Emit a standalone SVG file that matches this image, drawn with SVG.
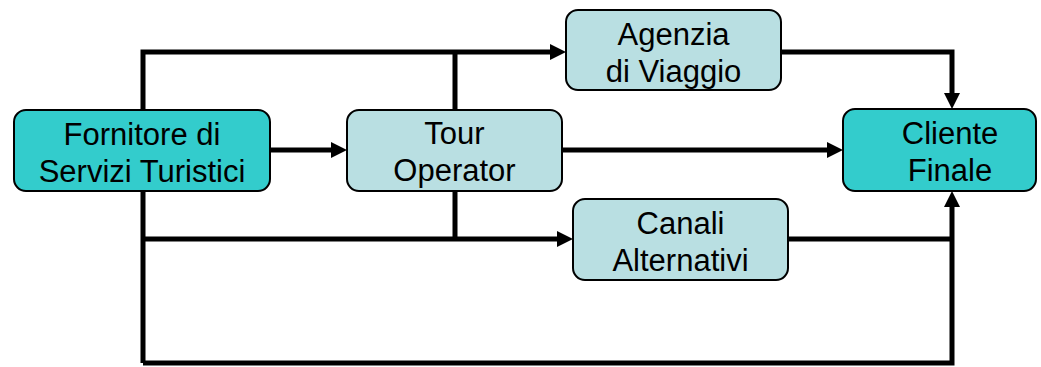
<svg xmlns="http://www.w3.org/2000/svg" width="1041" height="367" viewBox="0 0 1041 367">
<style>
.box{stroke:#000;stroke-width:2}
.dark{fill:#33CCCC}
.light{fill:#B9DFE2}
.t{font-family:"Liberation Sans",Arial,sans-serif;font-size:31px;fill:#000;text-anchor:middle}
.c{fill:none;stroke:#000;stroke-width:5;stroke-linejoin:miter}
</style>
<defs>
<marker id="ah" markerUnits="userSpaceOnUse" markerWidth="16" markerHeight="16" refX="2" refY="8" orient="auto">
<path d="M0,0 L16,8 L0,16 Z" fill="#000"/>
</marker>
</defs>
<g id="connectors">
<path class="c" d="M143,363 V52 H552" marker-end="url(#ah)"/>
<path class="c" d="M455,52 V239"/>
<path class="c" d="M143,239 H559" marker-end="url(#ah)"/>
<path class="c" d="M270,150 H333" marker-end="url(#ah)"/>
<path class="c" d="M562,150 H829" marker-end="url(#ah)"/>
<path class="c" d="M781,52 H952 V95" marker-end="url(#ah)"/>
<path class="c" d="M788,239 H952"/>
<path class="c" d="M143,363 H952 V205" marker-end="url(#ah)"/>
</g>
<g id="fornitore">
<rect class="box dark" x="14" y="110" width="256" height="81" rx="12"/>
<text class="t" x="142" y="145">Fornitore di</text>
<text class="t" x="142" y="182">Servizi Turistici</text>
</g>
<g id="tour">
<rect class="box light" x="347" y="110" width="215" height="81" rx="12"/>
<text class="t" x="454.5" y="144">Tour</text>
<text class="t" x="454.5" y="181">Operator</text>
</g>
<g id="agenzia">
<rect class="box light" x="566" y="10" width="215" height="80" rx="12"/>
<text class="t" x="673.5" y="45">Agenzia</text>
<text class="t" x="673.5" y="82">di Viaggio</text>
</g>
<g id="canali">
<rect class="box light" x="573" y="199" width="215" height="81" rx="12"/>
<text class="t" x="680.5" y="234">Canali</text>
<text class="t" x="680.5" y="271">Alternativi</text>
</g>
<g id="cliente">
<rect class="box dark" x="843" y="109" width="193" height="82" rx="12"/>
<text class="t" x="950" y="144">Cliente</text>
<text class="t" x="950" y="181">Finale</text>
</g>
</svg>
